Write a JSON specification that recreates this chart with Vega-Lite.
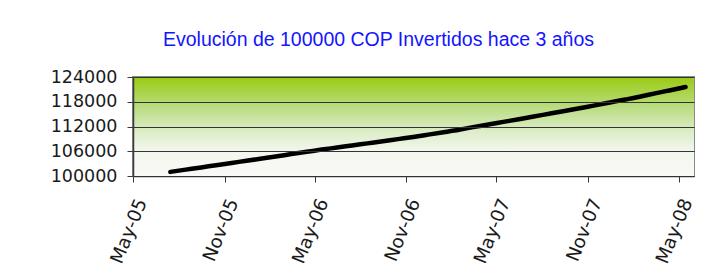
{
  "$schema": "https://vega.github.io/schema/vega-lite/v6.json",
  "width": 561,
  "height": 99,
  "autosize": {"type": "none"},
  "padding": {"left": 133, "top": 77, "right": 27, "bottom": 96},
  "background": "white",
  "title": {
    "text": "Evolución de 100000 COP Invertidos hace 3 años",
    "font": "Liberation Sans",
    "fontSize": 19.5,
    "fontWeight": "normal",
    "color": "#1414ff",
    "anchor": "middle",
    "frame": "group",
    "dx": -35,
    "offset": 18
  },
  "config": {
    "view": {"stroke": "#8a8a8a", "strokeWidth": 2},
    "axis": {
      "labelFont": "DejaVu Sans",
      "labelFontSize": 17.5,
      "labelColor": "#1a1a1a",
      "labelOverlap": false,
      "domainColor": "#3a3a3a",
      "domainWidth": 1.5,
      "tickColor": "#3a3a3a",
      "tickSize": 6,
      "title": null
    }
  },
  "data": {
    "values": [
      {"date": "2005-07-15", "value": 101000},
      {"date": "2005-08-15", "value": 101540},
      {"date": "2005-09-15", "value": 102080},
      {"date": "2005-10-15", "value": 102620},
      {"date": "2005-11-15", "value": 103160},
      {"date": "2005-12-15", "value": 103700},
      {"date": "2006-01-15", "value": 104240},
      {"date": "2006-02-15", "value": 104780},
      {"date": "2006-03-15", "value": 105320},
      {"date": "2006-04-15", "value": 105860},
      {"date": "2006-05-15", "value": 106400},
      {"date": "2006-06-15", "value": 106900},
      {"date": "2006-07-15", "value": 107400},
      {"date": "2006-08-15", "value": 107905},
      {"date": "2006-09-15", "value": 108415},
      {"date": "2006-10-15", "value": 108935},
      {"date": "2006-11-15", "value": 109465},
      {"date": "2006-12-15", "value": 110025},
      {"date": "2007-01-15", "value": 110615},
      {"date": "2007-02-15", "value": 111225},
      {"date": "2007-03-15", "value": 111845},
      {"date": "2007-04-15", "value": 112475},
      {"date": "2007-05-15", "value": 113115},
      {"date": "2007-06-15", "value": 113765},
      {"date": "2007-07-15", "value": 114425},
      {"date": "2007-08-15", "value": 115090},
      {"date": "2007-09-15", "value": 115760},
      {"date": "2007-10-15", "value": 116435},
      {"date": "2007-11-15", "value": 117115},
      {"date": "2007-12-15", "value": 117815},
      {"date": "2008-01-15", "value": 118535},
      {"date": "2008-02-15", "value": 119275},
      {"date": "2008-03-15", "value": 120035},
      {"date": "2008-04-15", "value": 120805},
      {"date": "2008-05-15", "value": 121585}
    ]
  },
  "encoding": {
    "x": {
      "type": "temporal",
      "scale": {"domain": [{"year": 2005, "month": 5, "date": 1}, {"year": 2008, "month": 6, "date": 1}]},
      "axis": {
        "values": [
          {"year": 2005, "month": 5, "date": 1},
          {"year": 2005, "month": 11, "date": 1},
          {"year": 2006, "month": 5, "date": 1},
          {"year": 2006, "month": 11, "date": 1},
          {"year": 2007, "month": 5, "date": 1},
          {"year": 2007, "month": 11, "date": 1},
          {"year": 2008, "month": 5, "date": 1}
        ],
        "format": "%b-%y",
        "labelAngle": -68,
        "labelFontSize": 18.5,
        "labelPadding": 17,
        "labelOffset": 8,
        "grid": false
      }
    },
    "y": {
      "type": "quantitative",
      "scale": {"domain": [100000, 124000], "nice": false, "zero": false},
      "axis": {
        "values": [100000, 106000, 112000, 118000, 124000],
        "format": "d",
        "labelPadding": 10,
        "labelOverlap": false,
        "grid": true,
        "gridColor": "#333333",
        "gridWidth": 1.2,
        "zindex": 1
      }
    }
  },
  "layer": [
    {
      "mark": {
        "type": "rect",
        "fill": {
          "gradient": "linear",
          "x1": 0, "y1": 0, "x2": 0, "y2": 1,
          "stops": [
            {"offset": 0, "color": "#99cc11"},
            {"offset": 0.3, "color": "#b9dc80"},
            {"offset": 0.55, "color": "#dcedc8"},
            {"offset": 0.75, "color": "#f3f7ee"},
            {"offset": 1, "color": "#f9f9f7"}
          ]
        }
      },
      "encoding": {
        "x": {"datum": {"year": 2005, "month": 5, "date": 1}},
        "x2": {"datum": {"year": 2008, "month": 6, "date": 1}},
        "y": {"datum": 124000},
        "y2": {"datum": 100000}
      }
    },
    {
      "mark": {"type": "line", "color": "black", "strokeWidth": 4.5, "strokeCap": "round", "interpolate": "monotone"},
      "encoding": {
        "x": {"field": "date"},
        "y": {"field": "value"}
      }
    }
  ]
}
